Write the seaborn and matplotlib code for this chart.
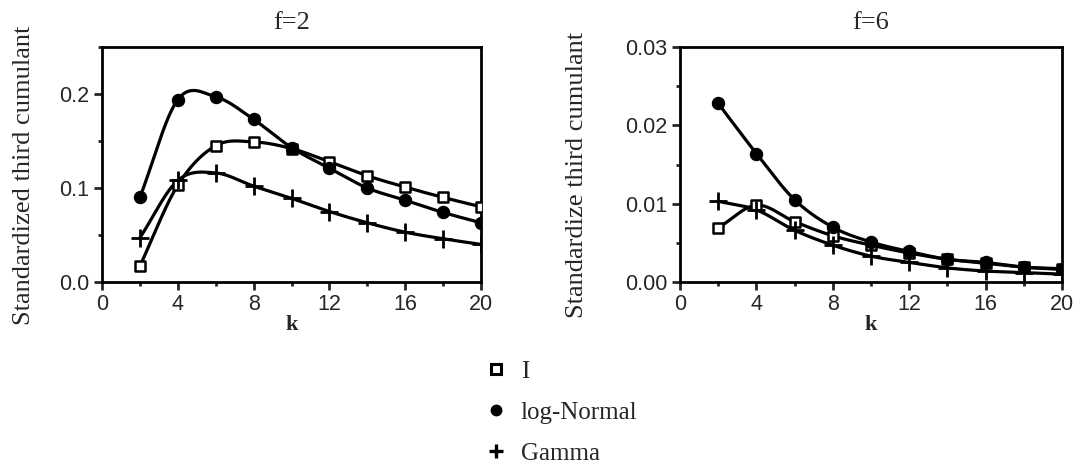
import numpy as np
import pandas as pd
import matplotlib
matplotlib.use("Agg")
import matplotlib.pyplot as plt
import seaborn as sns
from matplotlib.ticker import MultipleLocator, FormatStrFormatter
from matplotlib.lines import Line2D

# valeurs
k = [2, 4, 6, 8, 10, 12, 14, 16, 18, 20]

f2_I = [0.017, 0.103, 0.145, 0.149, 0.142, 0.128, 0.113, 0.101, 0.090, 0.080]
f2_lognormal = [0.090, 0.194, 0.197, 0.173, 0.143, 0.121, 0.100, 0.087, 0.074, 0.063]
f2_gamma = [0.047, 0.108, 0.116, 0.102, 0.089, 0.075, 0.063, 0.053, 0.046, 0.040]

f6_I = [0.0069, 0.0098, 0.0077, 0.0059, 0.0047, 0.0037, 0.0029, 0.0024, 0.0019, 0.0017]
f6_lognormal = [0.0228, 0.0164, 0.0105, 0.0070, 0.0051, 0.0039, 0.0029, 0.0025, 0.0019, 0.0016]
f6_gamma = [0.0103, 0.0092, 0.0066, 0.0047, 0.0033, 0.0025, 0.0018, 0.0014, 0.0012, 0.0010]

series_names = ["I", "log-Normal", "Gamma"]
panel_titles = ["f=2", "f=6"]
ylabels = ["Standardized third cumulant", "Standardize third cumulant"]

sns.set_style("ticks")
plt.rcParams["font.family"] = ["Liberation Serif", "DejaVu Serif"]


def smooth(x, y, n=30):
    # courbe lissée (Hermite cubique) pour le tracé seulement
    x = np.asarray(x, float)
    y = np.asarray(y, float)
    m = np.gradient(y, x)
    xs, ys = [], []
    for i in range(len(x) - 1):
        h = x[i + 1] - x[i]
        t = np.linspace(0, 1, n, endpoint=False)
        h00 = 2 * t**3 - 3 * t**2 + 1
        h10 = t**3 - 2 * t**2 + t
        h01 = -2 * t**3 + 3 * t**2
        h11 = t**3 - t**2
        xs.append(x[i] + t * h)
        ys.append(h00 * y[i] + h10 * h * m[i] + h01 * y[i + 1] + h11 * h * m[i + 1])
    xs.append([x[-1]])
    ys.append([y[-1]])
    return np.concatenate(xs), np.concatenate(ys)


marker_style = {
    "I": dict(marker="s", facecolor="white", edgecolor="black", s=60, linewidth=1.8),
    "log-Normal": dict(marker="o", facecolor="black", edgecolor="black", s=75, linewidth=1),
    "Gamma": dict(marker="+", color="black", s=150, linewidth=2),
}

fig = plt.figure(figsize=(10.9, 4.75), dpi=100)
ax1 = fig.add_axes([102 / 1090, 193 / 475, 379 / 1090, 235 / 475])
ax2 = fig.add_axes([680 / 1090, 193 / 475, 382 / 1090, 235 / 475])

panels = [
    (ax1, [f2_I, f2_lognormal, f2_gamma], 0.25, 0.1, 0.05, "%.1f", -0.177),
    (ax2, [f6_I, f6_lognormal, f6_gamma], 0.03, 0.01, 0.005, "%.2f", -0.24),
]

for (ax, vals, ymax, major, minor, fmt, lab_x), title, ylab in zip(panels, panel_titles, ylabels):
    for name, v in zip(series_names, vals):
        xs, ys = smooth(k, v)
        sns.lineplot(x=xs, y=ys, ax=ax, color="black", linewidth=2.3, sort=False, zorder=2)
    for name, v in zip(series_names, vals):
        sns.scatterplot(x=k, y=v, ax=ax, zorder=3, **marker_style[name])

    ax.set_xlim(0, 20)
    ax.set_ylim(0, ymax)
    ax.xaxis.set_major_locator(MultipleLocator(4))
    ax.xaxis.set_minor_locator(MultipleLocator(2))
    ax.yaxis.set_major_locator(MultipleLocator(major))
    ax.yaxis.set_minor_locator(MultipleLocator(minor))
    ax.yaxis.set_major_formatter(FormatStrFormatter(fmt))
    ax.tick_params(which="major", direction="out", length=6, width=2, labelsize=15.5, pad=3)
    ax.tick_params(which="minor", direction="out", length=3, width=2)
    for lab in ax.get_xticklabels() + ax.get_yticklabels():
        lab.set_fontfamily("Liberation Sans")
    for sp in ax.spines.values():
        sp.set_linewidth(2)
        sp.set_color("black")
    ax.set_title(title, fontsize=19, pad=13)
    ax.set_xlabel("k", fontsize=16, fontweight="bold")
    ax.xaxis.set_label_coords(0.5, -0.14)
    ax.set_ylabel(ylab, fontsize=19)
    ax.yaxis.set_label_coords(lab_x, 0.455)

handles = [
    Line2D([], [], linestyle="none", marker="s", markersize=7, markerfacecolor="white",
           markeredgecolor="black", markeredgewidth=2.2),
    Line2D([], [], linestyle="none", marker="o", markersize=7.5, color="black"),
    Line2D([], [], linestyle="none", marker="+", markersize=10, markeredgewidth=2.4, color="black"),
]
fig.legend(handles, series_names, loc="upper left", bbox_to_anchor=(0.432, 0.268),
           frameon=False, fontsize=18, handletextpad=0.5, labelspacing=0.75,
           handlelength=1.0, borderpad=0)

fig.savefig("out.png", dpi=100)
